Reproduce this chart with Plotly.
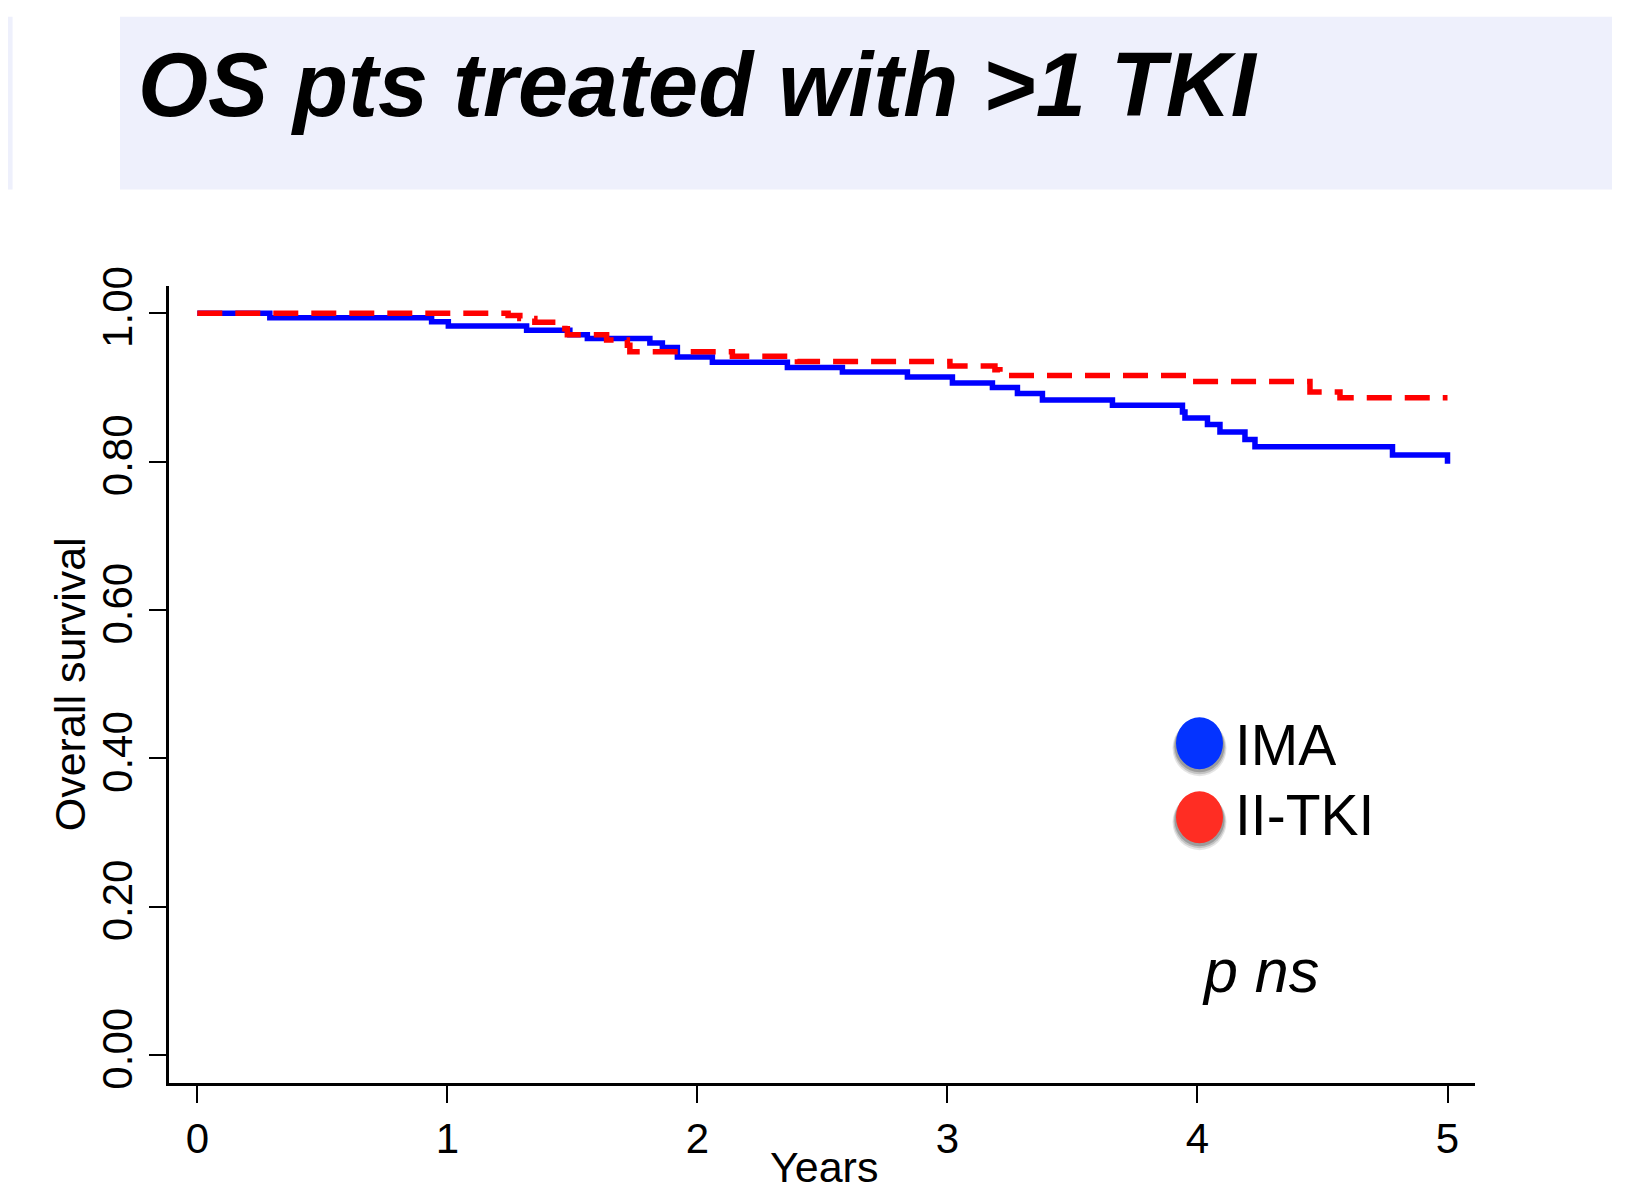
import plotly.graph_objects as go

# ---- data ----
ima_years = [0, 0.29, 0.937, 1.004, 1.317, 1.49, 1.56, 1.81, 1.86, 1.92, 2.06, 2.36, 2.58, 2.84,
             3.02, 3.18, 3.28, 3.38, 3.66, 3.94, 3.95, 4.04, 4.09, 4.19, 4.23, 4.78, 5.0]
ima_surv = [1.0, 0.994, 0.9885, 0.983, 0.977, 0.971, 0.966, 0.960, 0.954, 0.941, 0.934, 0.927, 0.921, 0.914,
            0.906, 0.900, 0.892, 0.883, 0.876, 0.867, 0.859, 0.850, 0.840, 0.830, 0.820, 0.809, 0.797]

tki_years = [0, 1.243, 1.29, 1.35, 1.47, 1.48, 1.637, 1.72, 1.73, 2.14, 2.40, 3.01, 3.19, 3.21,
             3.98, 4.45, 4.57, 5.0]
tki_surv = [1.0, 0.997, 0.993, 0.988, 0.979, 0.971, 0.964, 0.957, 0.948, 0.942, 0.935, 0.929, 0.924, 0.916,
            0.908, 0.894, 0.886, 0.886]

x_ticks = [0, 1, 2, 3, 4, 5]
y_ticks = [0.0, 0.2, 0.4, 0.6, 0.8, 1.0]
y_tick_labels = ["0.00", "0.20", "0.40", "0.60", "0.80", "1.00"]

series_names = ["IMA", "II-TKI"]
title_text = "OS pts treated with >1 TKI"
x_title = "Years"
y_title = "Overall survival"

# ---- layout geometry (page pixels; the page body adds an 8px offset) ----
OFF = 8
W, H = 1646 - OFF, 1192 - OFF
L, R, T, B = 169 - OFF, 1475 - OFF, 285.5 - OFF, 1083 - OFF
FONT = "Liberation Sans, Arial, Helvetica, sans-serif"


def px(x):
    return (x - OFF - L) / (R - L)


def py(y):
    return (B - (y - OFF)) / (B - T)


fig = go.Figure()
fig.add_trace(go.Scatter(x=ima_years, y=ima_surv, mode="lines", line_shape="hv",
                         line=dict(color="#0000FF", width=5.5), name=series_names[0]))
fig.add_trace(go.Scatter(x=tki_years, y=tki_surv, mode="lines", line_shape="hv",
                         line=dict(color="#FF0000", width=5.5, dash="25px,13px"), name=series_names[1]))

shapes = []
# title banner
shapes.append(dict(type="rect", xref="paper", yref="paper", x0=px(120), x1=px(1612),
                   y0=py(189), y1=py(16), fillcolor="#EEF0FC", line=dict(width=0), layer="below"))
shapes.append(dict(type="rect", xref="paper", yref="paper", x0=px(OFF), x1=px(12.6),
                   y0=py(189), y1=py(16), fillcolor="#EEF0FC", line=dict(width=0), layer="below"))

# legend circles with soft shadow
legend_items = [(743, "#0433FF"), (817, "#FF2D23")]
for cy, col in legend_items:
    for k, op in [(7, 0.10), (5, 0.15), (3, 0.2)]:
        shapes.append(dict(type="circle", xref="paper", yref="paper",
                           x0=px(1176 - k / 2), x1=px(1223 + k / 2),
                           y0=py(cy + 26 + k), y1=py(cy - 26 + 3),
                           fillcolor="rgba(0,0,0,%.2f)" % op, line=dict(width=0)))
    shapes.append(dict(type="circle", xref="paper", yref="paper",
                       x0=px(1176), x1=px(1223), y0=py(cy + 26), y1=py(cy - 26),
                       fillcolor=col, line=dict(width=0)))

annotations = [
    dict(text="<b><i>" + title_text + "</i></b>", xref="paper", yref="paper",
         x=px(136), y=py(84), xanchor="left", yanchor="middle", showarrow=False,
         font=dict(family=FONT, size=90, color="black")),
    dict(text=series_names[0], xref="paper", yref="paper", x=px(1233), y=py(745),
         xanchor="left", yanchor="middle", showarrow=False,
         font=dict(family=FONT, size=57, color="black")),
    dict(text=series_names[1], xref="paper", yref="paper", x=px(1233), y=py(815),
         xanchor="left", yanchor="middle", showarrow=False,
         font=dict(family=FONT, size=57, color="black")),
    dict(text="<i>p ns</i>", xref="paper", yref="paper", x=px(1200), y=py(971),
         xanchor="left", yanchor="middle", showarrow=False,
         font=dict(family=FONT, size=61, color="black")),
    dict(text=y_title, xref="paper", yref="paper", x=px(70), y=py(684),
         xanchor="center", yanchor="middle", textangle=-90, showarrow=False,
         font=dict(family=FONT, size=43, color="black")),
    dict(text=x_title, xref="paper", yref="paper", x=px(824), y=py(1167),
         xanchor="center", yanchor="middle", showarrow=False,
         font=dict(family=FONT, size=43, color="black")),
]

fig.update_layout(
    template="none",
    width=W, height=H,
    margin=dict(l=L, r=W - R, t=T, b=H - B, pad=0),
    paper_bgcolor="white", plot_bgcolor="white",
    showlegend=False,
    shapes=shapes,
    annotations=annotations,
    font=dict(family=FONT, color="black"),
    xaxis=dict(range=[-0.1132, 5.110], tickvals=x_ticks, ticktext=[str(v) for v in x_ticks],
               showgrid=False, zeroline=False, showline=True, linecolor="black", linewidth=2.5,
               ticks="outside", ticklen=17, tickwidth=2, tickcolor="black",
               tickfont=dict(family=FONT, size=42, color="black"),
               automargin=False),
    yaxis=dict(range=[-0.0377, 1.0368], tickvals=y_ticks, ticktext=y_tick_labels, tickangle=-90,
               showgrid=False, zeroline=False, showline=True, linecolor="black", linewidth=2.5,
               ticks="outside", ticklen=17, tickwidth=2, tickcolor="black",
               tickfont=dict(family=FONT, size=42, color="black"),
               automargin=False),
)

fig.write_html("out.html")
